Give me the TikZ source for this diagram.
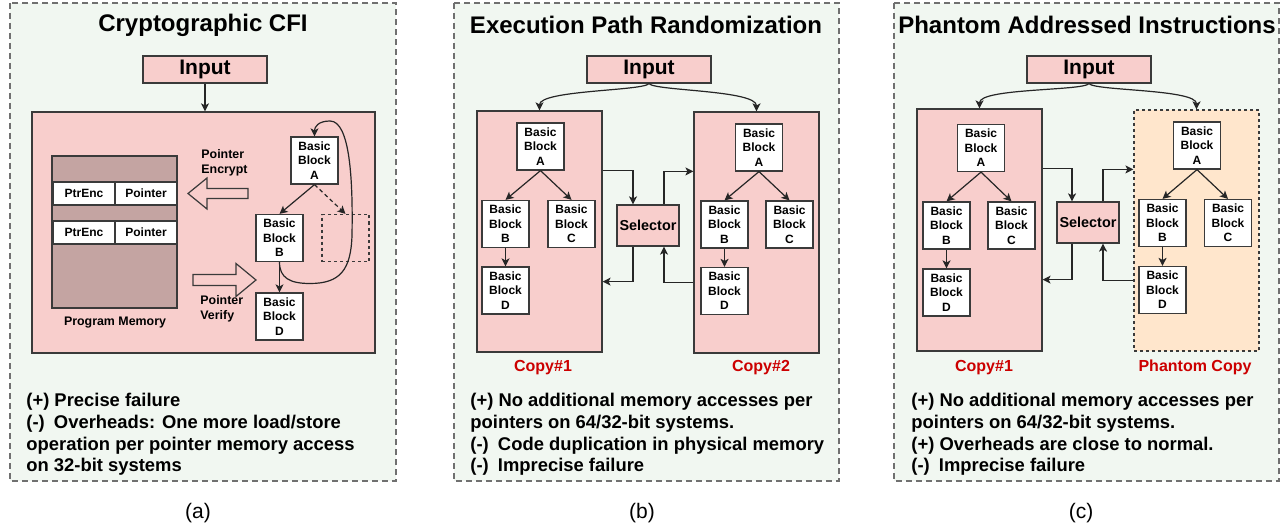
\documentclass[tikz,border=0pt]{standalone}
\usepackage{fontspec}
\setmainfont{Liberation Sans}
\usetikzlibrary{arrows.meta,calc}

\definecolor{bgGreen}{HTML}{F1F7F1}
\definecolor{pinkFill}{HTML}{F8CECC}
\definecolor{memFill}{HTML}{C4A4A2}
\definecolor{peachFill}{HTML}{FFE6CC}
\definecolor{copyRed}{HTML}{CC0000}
\definecolor{edgeGray}{HTML}{3A3A3A}
\definecolor{panelGray}{HTML}{707070}

\tikzset{
  panel/.style={draw=panelGray, line width=0.9pt, dash pattern=on 3pt off 2pt, fill=bgGreen},
  box/.style={draw=edgeGray, line width=0.6pt, fill=pinkFill, inner sep=0pt},
  title/.style={font=\bfseries\fontsize{12}{14}\selectfont},
  inputbox/.style={box, minimum width=62pt, minimum height=13.5pt, font=\bfseries\fontsize{10.5}{12}\selectfont},
  bblock/.style={draw=edgeGray, line width=0.6pt, fill=white, minimum width=23.5pt, minimum height=23.5pt,
    inner sep=0pt, align=center, font=\bfseries\fontsize{6}{7.3}\selectfont},
  selbox/.style={box, minimum width=31pt, minimum height=20.5pt, font=\bfseries\fontsize{7.2}{8.6}\selectfont},
  copybox/.style={box, minimum width=62.5pt, minimum height=120.5pt},
  phbox/.style={draw=edgeGray, line width=0.6pt, dash pattern=on 1.5pt off 1.5pt, fill=peachFill,
    inner sep=0pt, minimum width=62.5pt, minimum height=120.5pt},
  cell/.style={draw=edgeGray, line width=0.6pt, fill=white, minimum width=31pt, minimum height=11.5pt,
    inner sep=0pt, font=\bfseries\fontsize{6}{7}\selectfont},
  small/.style={align=left, inner sep=0pt, font=\bfseries\fontsize{6.2}{7.3}\selectfont},
  copylbl/.style={text=copyRed, inner sep=0pt, font=\bfseries\fontsize{8}{9.6}\selectfont},
  note/.style={anchor=west, align=left, inner sep=0pt, font=\bfseries\fontsize{9.2}{10.85}\selectfont},
  caption/.style={font=\fontsize{10.5}{12}\selectfont},
  link/.style={-{Stealth[length=4pt,width=4pt,inset=1pt]}, line width=0.6pt, draw=black!85},
  fatarrow/.style={draw=edgeGray, line width=0.6pt, fill=pinkFill}
}

\begin{document}
\begin{tikzpicture}[x=0.5pt,y=-0.5pt]
      \useasboundingbox (0,0) rectangle (1288,529);

      % Draw the three panels
      \draw[panel] (10,3) rectangle (396,481);
      \draw[panel] (454,3) rectangle (839,481);
      \draw[panel] (894,3) rectangle (1279,481);

      \node[title] (ttlA) at (203,25) {Cryptographic CFI};
      \node[title] (ttlB) at (646,25) {Execution Path Randomization};
      \node[title] (ttlC) at (1087,25) {Phantom Addressed Instructions};

      % Panel (a): cryptographic CFI
      \node[inputbox] (inA) at (205,69.5) {Input};
      \node[box, minimum width=171.5pt, minimum height=120.5pt] (memA) at (203.5,232.5) {};
      \draw[link] (inA.south) -- (inA.south |- memA.north);

      \draw[draw=edgeGray, line width=0.6pt, fill=memFill] (52,156) rectangle (177,308);
      \node[cell] (encA1) at (84,193.5) {PtrEnc};
      \node[cell] (ptrA1) at (146,193.5) {Pointer};
      \node[cell] (encA2) at (84,232.5) {PtrEnc};
      \node[cell] (ptrA2) at (146,232.5) {Pointer};
      \node[small] (pmA) at (115,323) {Program Memory};

      \node[small, anchor=west] (encLbl) at (201,162.5) {Pointer\\Encrypt};
      \draw[fatarrow] (248,188.5) -- (207,188.5) -- (207,178) -- (188,193.5) -- (207,209) -- (207,198.5) -- (248,198.5) -- cycle;
      \node[small, anchor=west] (verLbl) at (200,309) {Pointer\\Verify};
      \draw[fatarrow] (193,274.5) -- (236,274.5) -- (236,263.5) -- (256,280) -- (236,296.5) -- (236,285.5) -- (193,285.5) -- cycle;

      \node[bblock] (aA) at (314.5,160.5) {Basic\\Block\\A};
      \node[bblock] (aB) at (279.5,238) {Basic\\Block\\B};
      \node[bblock] (aD) at (279.5,316.5) {Basic\\Block\\D};
      \node[bblock, fill=none, dash pattern=on 1.5pt off 1.5pt] (aX) at (345.5,238) {};

      \draw[link] (aA.south) -- (aB.north);
      \draw[link, dash pattern=on 2pt off 1.5pt] (aA.south) -- (aX.north);
      \draw[link] (aB.south) -- (aD.north);
      \draw[link] (aB.south) .. controls (279.5,278) and (290,283.5) .. (310,283.5)
                  .. controls (340,283.5) and (351,270) .. (352,235)
                  .. controls (353,180) and (350,121) .. (330,121)
                  .. controls (318,121) and (314.5,127) .. (aA.north);

      % Panel (b): execution path randomization
      \node[inputbox] (inB) at (649,69.5) {Input};
      \node[copybox] (cpB1) at (539.5,231.5) {};
      \node[copybox] (cpB2) at (756.5,232.5) {};
      \node[selbox] (selB) at (648,225.5) {Selector};

      \draw[link] (inB.south) .. controls (643,91) and (539.5,90) .. (cpB1.north);
      \draw[link] (inB.south) .. controls (655,91) and (756.5,90) .. (cpB2.north);

      \node[bblock] (bA) at (540.5,146.5) {Basic\\Block\\A};
      \node[bblock] (bB) at (505.5,224) {Basic\\Block\\B};
      \node[bblock] (bC) at (571.5,224) {Basic\\Block\\C};
      \node[bblock] (bD) at (505.5,290.5) {Basic\\Block\\D};
      \draw[link] (bA.south) -- (bB.north);
      \draw[link] (bA.south) -- (bC.north);
      \draw[link] (bB.south) -- (bD.north);

      \node[bblock] (cA) at (759,147.5) {Basic\\Block\\A};
      \node[bblock] (cB) at (724.5,224.5) {Basic\\Block\\B};
      \node[bblock] (cC) at (789.5,224.5) {Basic\\Block\\C};
      \node[bblock] (cD) at (724.5,291) {Basic\\Block\\D};
      \draw[link] (cA.south) -- (cB.north);
      \draw[link] (cA.south) -- (cC.north);
      \draw[link] (cB.south) -- (cD.north);

      \draw[link] ($(cpB1.north east)+(0,60)$) -| ($(selB.north)+(-15,0)$);
      \draw[link] ($(selB.south)+(-15,0)$) |- ($(cpB1.south east)+(0,-71)$);
      \draw[link] ($(cpB2.south west)+(0,-71)$) -| ($(selB.south)+(16,0)$);
      \draw[link] ($(selB.north)+(16,0)$) |- ($(cpB2.north west)+(0,60)$);

      \node[copylbl] (lblB1) at (543,368) {Copy\#1};
      \node[copylbl] (lblB2) at (761,368) {Copy\#2};

      % Panel (c): phantom addressed instructions
      \node[inputbox] (inC) at (1089,69.5) {Input};
      \node[box, minimum width=62.5pt, minimum height=121pt] (cpC1) at (979.5,230) {};
      \node[phbox] (phC) at (1196.5,230.5) {};
      \node[selbox] (selC) at (1088,222.5) {Selector};

      \draw[link] (inC.south) .. controls (1083,91) and (979.5,88) .. (cpC1.north);
      \draw[link] (inC.south) .. controls (1095,91) and (1196.5,89) .. (phC.north);

      \node[bblock] (dA) at (981,148) {Basic\\Block\\A};
      \node[bblock] (dB) at (946.5,225.5) {Basic\\Block\\B};
      \node[bblock] (dC) at (1011.5,225.5) {Basic\\Block\\C};
      \node[bblock] (dD) at (946.5,292.5) {Basic\\Block\\D};
      \draw[link] (dA.south) -- (dB.north);
      \draw[link] (dA.south) -- (dC.north);
      \draw[link] (dB.south) -- (dD.north);

      \node[bblock] (eA) at (1197,145.5) {Basic\\Block\\A};
      \node[bblock] (eB) at (1162.5,223) {Basic\\Block\\B};
      \node[bblock] (eC) at (1228,223) {Basic\\Block\\C};
      \node[bblock] (eD) at (1162.5,290) {Basic\\Block\\D};
      \draw[link] (eA.south) -- (eB.north);
      \draw[link] (eA.south) -- (eC.north);
      \draw[link] (eB.south) -- (eD.north);

      \draw[link] ($(cpC1.north east)+(0,60)$) -| ($(selC.north)+(-16,0)$);
      \draw[link] ($(selC.south)+(-16,0)$) |- ($(cpC1.south east)+(0,-72)$);
      \draw[link] ($(phC.south west)+(0,-71)$) -| ($(selC.south)+(15,0)$);
      \draw[link] ($(selC.north)+(15,0)$) |- ($(phC.north west)+(0,60)$);

      \node[copylbl] (lblC1) at (984,368) {Copy\#1};
      \node[copylbl] (lblC2) at (1195,367) {Phantom Copy};

      % Pros and cons
      \node[note] (noteA) at (26,434.5) {(+) Precise failure\\(-)\enspace Overheads: One more load/store\\operation per pointer memory access\\on 32-bit systems};
      \node[note] (noteB) at (470,434.5) {(+) No additional memory accesses per\\pointers on 64/32-bit systems.\\(-)\enspace Code duplication in physical memory\\(-)\enspace Imprecise failure};
      \node[note] (noteC) at (911,434.5) {(+) No additional memory accesses per\\pointers on 64/32-bit systems.\\(+) Overheads are close to normal.\\(-)\enspace Imprecise failure};

      \node[caption] (capA) at (198,513) {(a)};
      \node[caption] (capB) at (642,513) {(b)};
      \node[caption] (capC) at (1081,513) {(c)};
\end{tikzpicture}
\end{document}
